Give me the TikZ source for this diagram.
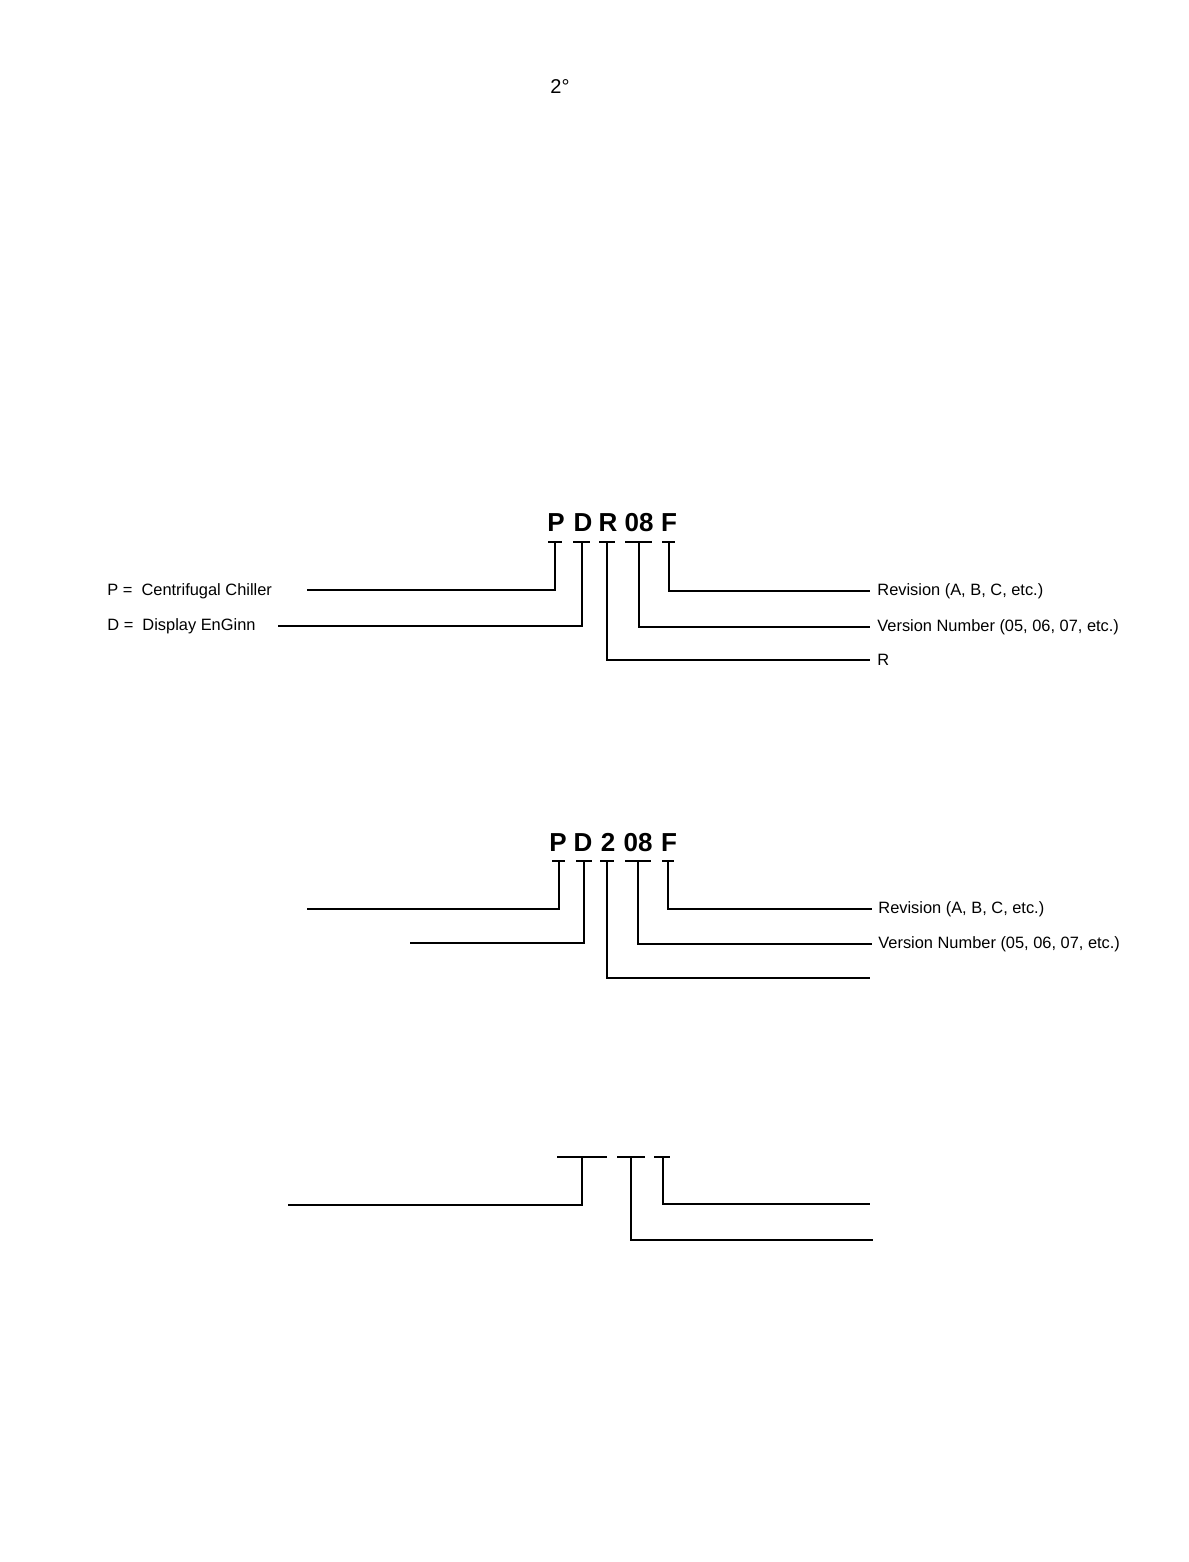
\documentclass[tikz,border=0pt]{standalone}
\usepackage{fontspec}
\setmainfont{Liberation Sans}
\usetikzlibrary{positioning}

\begin{document}
\begin{tikzpicture}[x=0.5pt, y=-0.5pt,
    code/.style={font=\fontsize{13}{13}\selectfont\bfseries, inner sep=0pt, text height=9.4pt, text depth=0pt},
    lbl/.style={font=\fontsize{8.2}{10}\selectfont, inner sep=0pt, anchor=west},
    tee/.style={line width=1pt},
    lead/.style={line width=0.9pt}
  ]
    \useasboundingbox[fill=white] (0,0) rectangle (1188,1562);

    \node[font=\fontsize{10}{10}\selectfont, inner sep=0pt] (pageno) at (560,87) {2°};

    % first code
    \node[code] (p1)  at (556,522) {P};
    \node[code] (d1)  at (583,522) {D};
    \node[code] (r1)  at (608,522) {R};
    \node[code] (v1)  at (639,522) {08};
    \node[code] (f1)  at (669,522) {F};

    \coordinate (tp1) at (555,542);
    \coordinate (td1) at (582,542);
    \coordinate (tr1) at (607,542);
    \coordinate (tv1) at (639,542);
    \coordinate (tf1) at (669,542);

    \node[lbl] (cen1) at (107,591) {P = \ Centrifugal Chiller};
    \node[lbl] (dis1) at (107,626) {D = \ Display EnGinn};
    \node[lbl] (rev1) at (877,591) {Revision (A, B, C, etc.)};
    \node[lbl] (ver1) at (877,627) {Version Number (05, 06, 07, etc.)};
    \node[lbl] (rr1)  at (877,660) {R};

    \coordinate (lp1) at (307,590);
    \coordinate (ld1) at (278,626);

    \draw[tee] ([xshift=-3.5pt]tp1) -- ([xshift=3.5pt]tp1);
    \draw[tee] ([xshift=-4.5pt]td1) -- ([xshift=4pt]td1);
    \draw[tee] ([xshift=-4pt]tr1) -- ([xshift=4pt]tr1);
    \draw[tee] ([xshift=-7pt]tv1) -- ([xshift=6.5pt]tv1);
    \draw[tee] ([xshift=-3.5pt]tf1) -- ([xshift=3pt]tf1);

    \draw[lead] (tp1) |- (lp1);
    \draw[lead] (td1) |- (ld1);
    \draw[lead] (tr1) |- ([xshift=-3.5pt]rr1.west);
    \draw[lead] (tv1) |- ([xshift=-3.5pt]ver1.west);
    \draw[lead] (tf1) |- ([xshift=-3.5pt]rev1.west);

    % second code
    \node[code] (p2)  at (558,842) {P};
    \node[code] (d2)  at (583,842) {D};
    \node[code] (n2)  at (608,842) {2};
    \node[code] (v2)  at (638,842) {08};
    \node[code] (f2)  at (669,842) {F};

    \coordinate (tp2) at (559,861);
    \coordinate (td2) at (584,861);
    \coordinate (tn2) at (607,861);
    \coordinate (tv2) at (638,861);
    \coordinate (tf2) at (668,861);

    \node[lbl] (rev2) at (878,909) {Revision (A, B, C, etc.)};
    \node[lbl] (ver2) at (878,944) {Version Number (05, 06, 07, etc.)};

    \coordinate (lp2) at (307,909);
    \coordinate (ld2) at (410,943);
    \coordinate (rn2) at (870,978);

    \draw[tee] ([xshift=-3.5pt]tp2) -- ([xshift=3pt]tp2);
    \draw[tee] ([xshift=-4pt]td2) -- ([xshift=4pt]td2);
    \draw[tee] ([xshift=-3.5pt]tn2) -- ([xshift=3.5pt]tn2);
    \draw[tee] ([xshift=-6.5pt]tv2) -- ([xshift=6.5pt]tv2);
    \draw[tee] ([xshift=-3pt]tf2) -- ([xshift=3pt]tf2);

    \draw[lead] (tp2) |- (lp2);
    \draw[lead] (td2) |- (ld2);
    \draw[lead] (tn2) |- (rn2);
    \draw[lead] (tv2) |- ([xshift=-3pt]ver2.west);
    \draw[lead] (tf2) |- ([xshift=-3pt]rev2.west);

    % third code, no letters
    \coordinate (ta3) at (582,1157);
    \coordinate (tb3) at (631,1157);
    \coordinate (tc3) at (663,1157);

    \coordinate (la3) at (288,1205);
    \coordinate (rb3) at (873,1240);
    \coordinate (rc3) at (870,1204);

    \draw[tee] ([xshift=-12.5pt]ta3) -- ([xshift=12.5pt]ta3);
    \draw[tee] ([xshift=-7pt]tb3) -- ([xshift=7pt]tb3);
    \draw[tee] ([xshift=-4.5pt]tc3) -- ([xshift=3.5pt]tc3);

    \draw[lead] (ta3) |- (la3);
    \draw[lead] (tb3) |- (rb3);
    \draw[lead] (tc3) |- (rc3);
\end{tikzpicture}
\end{document}
